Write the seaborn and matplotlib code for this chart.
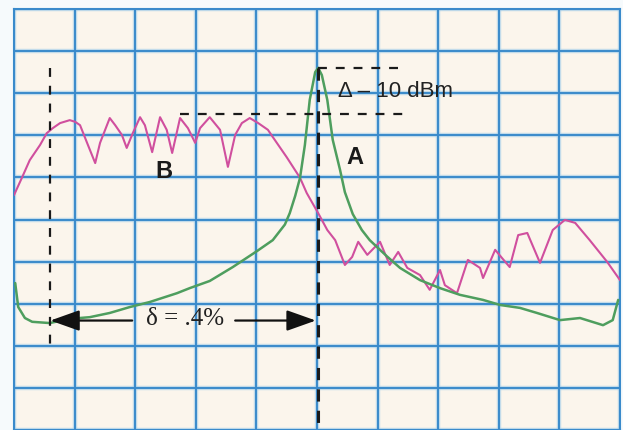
import numpy as np
import pandas as pd
import matplotlib
matplotlib.use("Agg")
import matplotlib.pyplot as plt
from matplotlib.patches import FancyArrowPatch
import seaborn as sns

# ---- data (screen divisions: x 0..10, y 0..10) ----
b_x = [0.00, 0.13, 0.26, 0.43, 0.54, 0.64, 0.76, 0.92, 1.01, 1.09, 1.22, 1.34, 1.42, 1.58, 1.67,
       1.78, 1.86, 1.96, 2.08, 2.16, 2.28, 2.41, 2.52, 2.61, 2.74, 2.87, 2.99, 3.07, 3.23, 3.40,
       3.53, 3.65, 3.76, 3.89, 4.03, 4.19, 4.27, 4.50, 4.72, 4.83, 5.02, 5.17, 5.30, 5.46, 5.58,
       5.68, 5.83, 6.04, 6.20, 6.34, 6.49, 6.70, 6.86, 7.03, 7.11, 7.31, 7.49, 7.69, 7.74, 7.94,
       8.05, 8.18, 8.32, 8.47, 8.68, 8.89, 9.09, 9.26, 9.50, 9.79, 10.0]
b_y = [5.58, 5.99, 6.41, 6.77, 7.05, 7.17, 7.29, 7.36, 7.32, 7.24, 6.77, 6.34, 6.82, 7.41, 7.24,
       7.01, 6.70, 7.05, 7.43, 7.24, 6.60, 7.43, 7.13, 6.58, 7.41, 7.17, 6.82, 7.17, 7.43, 7.13,
       6.25, 7.01, 7.29, 7.41, 7.29, 7.13, 6.96, 6.48, 5.99, 5.63, 5.15, 4.75, 4.51, 3.92, 4.11,
       4.47, 4.16, 4.47, 3.92, 4.23, 3.85, 3.68, 3.33, 3.80, 3.44, 3.25, 4.04, 3.85, 3.61, 4.28,
       4.09, 3.87, 4.63, 4.68, 3.97, 4.75, 4.99, 4.92, 4.51, 3.99, 3.56]

a_x = [0.02, 0.07, 0.18, 0.30, 0.59, 0.92, 1.25, 1.58, 1.91, 2.24, 2.69, 2.90, 3.23, 3.61, 4.01,
       4.27, 4.47, 4.55, 4.64, 4.72, 4.80, 4.88, 4.97, 5.02, 5.08, 5.17, 5.26, 5.38, 5.46, 5.59,
       5.74, 5.87, 6.15, 6.37, 6.70, 7.03, 7.36, 7.74, 8.02, 8.35, 8.63, 9.01, 9.34, 9.72, 9.88, 9.97]
a_y = [3.49, 2.92, 2.66, 2.57, 2.54, 2.64, 2.68, 2.78, 2.92, 3.04, 3.25, 3.37, 3.54, 3.87, 4.25,
       4.51, 4.88, 5.15, 5.56, 5.99, 6.77, 7.84, 8.50, 8.60, 8.43, 7.84, 6.89, 6.18, 5.65, 5.13,
       4.75, 4.51, 4.13, 3.85, 3.56, 3.37, 3.21, 3.09, 2.97, 2.90, 2.78, 2.61, 2.66, 2.49, 2.61, 3.09]

trace_b = pd.DataFrame({"x": b_x, "y": b_y})
trace_a = pd.DataFrame({"x": a_x, "y": a_y})

# ---- style ----
sns.set_style("white")
plt.rcParams["font.family"] = ["Liberation Sans", "DejaVu Sans"]

W, H = 623, 430
fig = plt.figure(figsize=(W / 100, H / 100), dpi=100, facecolor="#F6FAFC")
ax = fig.add_axes([14 / W, 0, 606 / W, 421 / H])
ax.set_facecolor("#FBF5EC")

grid_c = "#3A8ACB"
ax.set_xlim(0, 10)
ax.set_ylim(0, 10)
ax.set_xticks(np.arange(0, 11, 1))
ax.set_yticks(np.arange(0, 11, 1))
ax.tick_params(length=0, labelbottom=False, labelleft=False)
ax.grid(True, color="#9CCBEA", lw=3.2, alpha=0.6)
for sp in ax.spines.values():
    sp.set_visible(True)
    sp.set_color(grid_c)
    sp.set_linewidth(1.5)
ax.set_axisbelow(True)
for v in range(1, 10):
    ax.axvline(v, color=grid_c, lw=1.4, zorder=0.6)
    ax.axhline(v, color=grid_c, lw=1.4, zorder=0.6)

sns.lineplot(data=trace_b, x="x", y="y", ax=ax, color="#D04F9E", lw=1.5, estimator=None, zorder=3)
sns.lineplot(data=trace_a, x="x", y="y", ax=ax, color="#4E9E5E", lw=1.8, estimator=None, zorder=3)
ax.set_xlabel("")
ax.set_ylabel("")

# ---- annotations ----
dash = dict(color="#1a1a1a", lw=1.6, dashes=(4, 4), zorder=4)
ax.plot([0.59, 0.59], [8.6, 2.02], **dash)
ax.plot([5.02, 5.02], [8.6, 0.0], color="#1a1a1a", lw=2.2, dashes=(4, 3), zorder=4)
ax.plot([5.02, 6.45], [8.6, 8.6], **dash)
ax.plot([2.74, 6.45], [7.51, 7.51], **dash)

ax.text(5.34, 8.05, "Δ – 10 dBm", fontsize=16, color="#222222", ha="left", va="center", zorder=5)
ax.text(5.63, 6.48, "A", fontsize=17, fontweight="bold", color="#1a1a1a", ha="center", va="center", zorder=5)
ax.text(2.47, 6.14, "B", fontsize=17, fontweight="bold", color="#1a1a1a", ha="center", va="center", zorder=5)
ax.text(2.83, 2.64, "δ = .4%", fontsize=18, family=["Liberation Serif", "DejaVu Serif"],
        color="#222222", ha="center", va="center", zorder=5)

arrow_kw = dict(arrowstyle="-|>,head_length=0.9,head_width=0.32", mutation_scale=20,
                color="#111111", lw=1.6, zorder=5, shrinkA=0, shrinkB=0)
ax.add_patch(FancyArrowPatch((1.95, 2.60), (0.60, 2.60), **arrow_kw))
ax.add_patch(FancyArrowPatch((3.65, 2.60), (4.98, 2.60), **arrow_kw))

fig.savefig("out.png", dpi=100, facecolor=fig.get_facecolor())
